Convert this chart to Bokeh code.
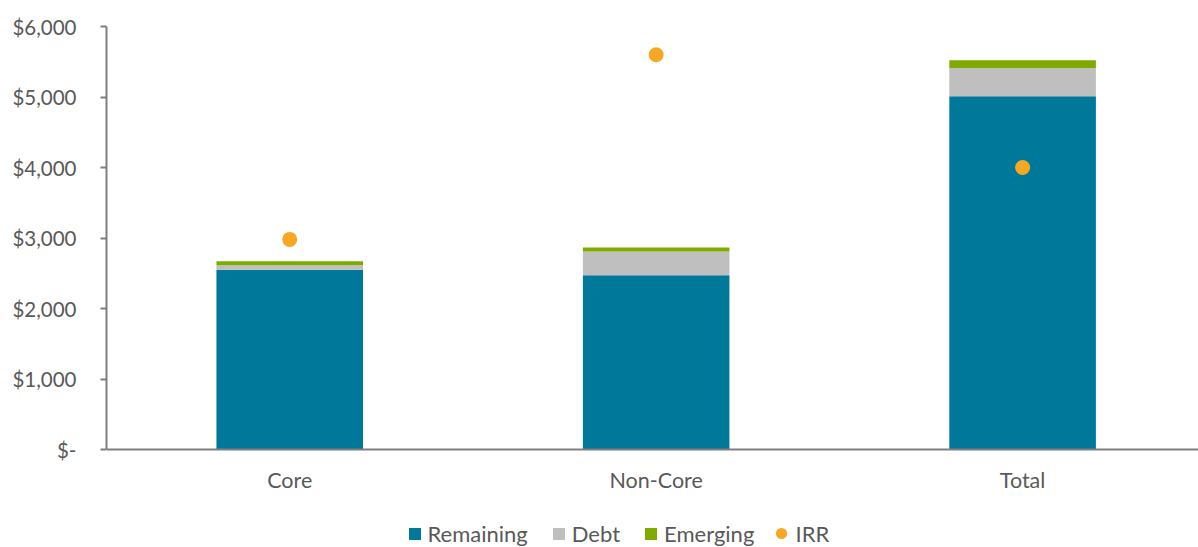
import numpy as np
from bokeh.plotting import figure
from bokeh.models import Range1d, FixedTicker, NumeralTickFormatter, Legend, LegendItem, ColumnDataSource
from bokeh.embed import file_html
from bokeh.resources import INLINE

categories = ["Core", "Non-Core", "Total"]
remaining = [2550, 2470, 5010]
debt = [65, 340, 400]
emerging = [55, 55, 110]
irr = [2980, 5600, 4000]
y_ticks = [0, 1000, 2000, 3000, 4000, 5000, 6000]

FONT = "Lato"
TXT = "#595959"
AX = "#7f7f7f"

x = list(np.arange(len(categories)) + 0.5)
src = ColumnDataSource(dict(x=x, remaining=remaining, debt=debt, emerging=emerging, irr=irr))

# frame spans the full height below the top border; space under y=0 holds labels and legend
Y_MAX = 6000
y_min = -Y_MAX * 98 / 423

p = figure(width=1198, height=547, output_backend="svg", toolbar_location=None,
           x_range=Range1d(0, 2.98), y_range=Range1d(y_min, Y_MAX),
           min_border_left=106, min_border_right=0, min_border_top=26, min_border_bottom=0)
p.outline_line_color = None
p.xgrid.visible = False
p.ygrid.visible = False
p.background_fill_color = "white"

rs = p.vbar_stack(["remaining", "debt", "emerging"], x="x", width=0.4, source=src,
                  color=["#007899", "#bfbfbf", "#7faa00"], line_color=None)
dots = p.scatter(x="x", y="irr", source=src, size=15, color="#f7a823", line_color=None)

# y axis
ya = p.yaxis[0]
ya.ticker = FixedTicker(ticks=y_ticks)
ya.formatter = NumeralTickFormatter(format="$0,0")
ya.major_label_overrides = {0: "$-"}
ya.bounds = (0, Y_MAX)
ya.major_tick_out = 6
ya.major_tick_in = 0
ya.minor_tick_line_color = None
ya.axis_line_color = AX
ya.axis_line_width = 2
ya.major_tick_line_color = AX
ya.major_tick_line_width = 2
ya.major_label_text_font = FONT
ya.major_label_text_font_size = "20.5px"
ya.major_label_text_color = TXT
ya.major_label_standoff = 24

# x axis, pinned at y = 0
xa = p.xaxis[0]
xa.fixed_location = 0
xa.ticker = FixedTicker(ticks=x)
xa.major_label_overrides = {xi: c for xi, c in zip(x, categories)}
xa.major_tick_line_color = None
xa.minor_tick_line_color = None
xa.axis_line_color = AX
xa.axis_line_width = 2
xa.major_label_text_font = FONT
xa.major_label_text_font_size = "21.5px"
xa.major_label_text_color = TXT
xa.major_label_standoff = 11

common = dict(orientation="horizontal", border_line_color=None, background_fill_alpha=0,
              label_text_font=FONT, label_text_font_size="22px", label_text_color=TXT,
              padding=0, margin=0)

legend_bars = Legend(items=[LegendItem(label="Remaining", renderers=[rs[0]]),
                            LegendItem(label="Debt", renderers=[rs[1]]),
                            LegendItem(label="Emerging", renderers=[rs[2]])],
                     location=(300.5, 0), glyph_width=15, glyph_height=15,
                     label_standoff=6, spacing=23, **common)
legend_dot = Legend(items=[LegendItem(label="IRR", renderers=[dots])],
                    location=(660.5, 0), glyph_width=28, glyph_height=28,
                    label_standoff=1, spacing=0, **common)
p.add_layout(legend_bars, "center")
p.add_layout(legend_dot, "center")

open("out.html", "w").write(file_html(p, INLINE))
